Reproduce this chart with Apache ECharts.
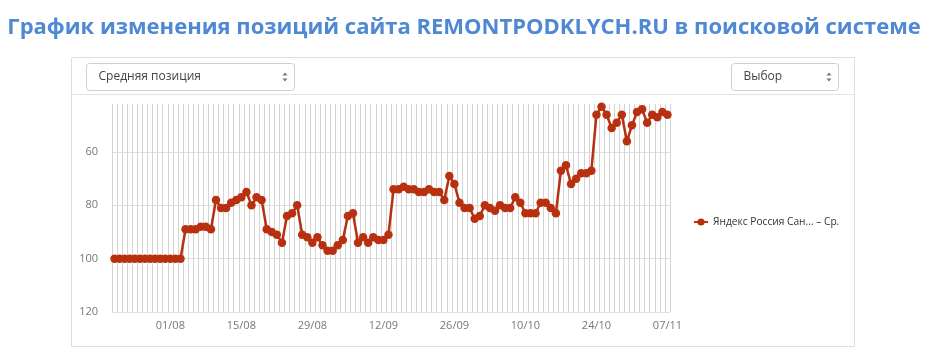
<!DOCTYPE html>
<html><head><meta charset="utf-8">
<script src="https://cdn.jsdelivr.net/npm/echarts@6/dist/echarts.min.js"></script>
<style>html,body{margin:0;padding:0;background:#fff;}#c{width:928px;height:362px;}</style>
</head><body><div id="c"></div>
<script>
var titleText = 'График изменения позиций сайта REMONTPODKLYCH.RU в поисковой системе';
var seriesName = 'Яндекс Россия Сан... – Ср.';
var selectLeftText = 'Средняя позиция';
var selectRightText = 'Выбор';
var dates = [
 '21/07','22/07','23/07','24/07','25/07','26/07','27/07','28/07','29/07','30/07','31/07',
 '01/08','02/08','03/08','04/08','05/08','06/08','07/08','08/08','09/08','10/08','11/08','12/08','13/08','14/08','15/08','16/08','17/08','18/08','19/08','20/08','21/08','22/08','23/08','24/08','25/08','26/08','27/08','28/08','29/08','30/08','31/08',
 '01/09','02/09','03/09','04/09','05/09','06/09','07/09','08/09','09/09','10/09','11/09','12/09','13/09','14/09','15/09','16/09','17/09','18/09','19/09','20/09','21/09','22/09','23/09','24/09','25/09','26/09','27/09','28/09','29/09','30/09',
 '01/10','02/10','03/10','04/10','05/10','06/10','07/10','08/10','09/10','10/10','11/10','12/10','13/10','14/10','15/10','16/10','17/10','18/10','19/10','20/10','21/10','22/10','23/10','24/10','25/10','26/10','27/10','28/10','29/10','30/10','31/10',
 '01/11','02/11','03/11','04/11','05/11','06/11','07/11'
];
var positions = [
 100,100,100,100,100,100,100,100,100,100,100,100,100,100,
 89,89,89,88,88,89,
 78,81,81,79,78,77,75,80,77,78,
 89,90,91,94,84,83,80,91,92,94,92,
 95,97,97,95,93,84,83,94,92,94,92,93,93,91,
 74,74,73,74,74,75,75,74,75,75,78,69,72,
 79,81,81,85,84,80,81,82,80,81,81,77,
 79,83,83,83,79,79,81,83,67,65,72,70,68,68,67,
 46,43,46,51,49,46,56,50,45,44,49,46,47,45,46
];
var xTickLabels = ['01/08','15/08','29/08','12/09','26/09','10/10','24/10','07/11'];
var yTickValues = [60, 80, 100, 120];
var yMin = 42, yMax = 120;

var chart = echarts.init(document.getElementById('c'), null, {renderer: 'canvas'});
var lineColor = '#b8300f';
function selectBox(x, y, w, h, label) {
  return [
    {type: 'rect', shape: {x: x, y: y, width: w, height: h, r: 3}, style: {fill: '#fff', stroke: '#cfcfcf', lineWidth: 1}},
    {type: 'text', x: x + 12, y: y + h / 2, style: {text: label, fill: '#444', font: '12px "Open Sans", sans-serif', verticalAlign: 'middle'}},
    {type: 'polygon', shape: {points: [[x + w - 12, y + h / 2 - 1.5], [x + w - 9.5, y + h / 2 - 4.5], [x + w - 7, y + h / 2 - 1.5]]}, style: {fill: '#777'}},
    {type: 'polygon', shape: {points: [[x + w - 12, y + h / 2 + 1.5], [x + w - 9.5, y + h / 2 + 4.5], [x + w - 7, y + h / 2 + 1.5]]}, style: {fill: '#777'}}
  ];
}
var graphics = [
  {type: 'rect', z: -10, shape: {x: 71.5, y: 57.5, width: 783, height: 289}, style: {fill: '#fff', stroke: '#dedede', lineWidth: 1}},
  {type: 'line', z: -9, shape: {x1: 72, y1: 94.5, x2: 854, y2: 94.5}, style: {stroke: '#e3e3e3', lineWidth: 1}}
].concat(selectBox(86.5, 63.5, 208, 27, selectLeftText)).concat(selectBox(731.5, 63.5, 107, 27, selectRightText));

chart.setOption({
  animation: false,
  backgroundColor: '#fff',
  title: {
    text: titleText, left: 'center', top: 12,
    textStyle: {color: '#4f88d3', fontSize: 22, fontWeight: 'bold', fontFamily: '"Open Sans", sans-serif'}
  },
  graphic: graphics,
  legend: {
    orient: 'vertical', left: 688, top: 212,
    itemWidth: 14, itemHeight: 9, itemGap: 6,
    textStyle: {color: '#333', fontSize: 10.2, fontFamily: '"Open Sans", sans-serif'},
    data: [seriesName]
  },
  grid: {left: 112, right: 258, top: 104, bottom: 50, containLabel: false},
  xAxis: {
    type: 'category', data: dates, boundaryGap: true,
    axisLine: {show: false}, axisTick: {show: false},
    axisLabel: {
      interval: function (i, v) { return xTickLabels.indexOf(v) >= 0; },
      color: '#777', fontSize: 11, margin: 8, fontFamily: '"Open Sans", sans-serif'
    },
    splitLine: {show: true, interval: 0, lineStyle: {color: '#d3d3d3', width: 1}}
  },
  yAxis: {
    type: 'value', inverse: true, min: yMin, max: yMax,
    axisLine: {show: false},
    axisTick: {show: false, customValues: yTickValues},
    axisLabel: {customValues: yTickValues, color: '#777', fontSize: 11, margin: 14, fontFamily: '"Open Sans", sans-serif'},
    splitLine: {show: true, lineStyle: {color: '#e0e0e0', width: 1}}
  },
  series: [{
    name: seriesName, type: 'line', data: positions,
    symbol: 'circle', symbolSize: 8.5, showSymbol: true, showAllSymbol: true,
    itemStyle: {color: lineColor},
    lineStyle: {color: lineColor, width: 2.5}
  }]
});
</script></body></html>
